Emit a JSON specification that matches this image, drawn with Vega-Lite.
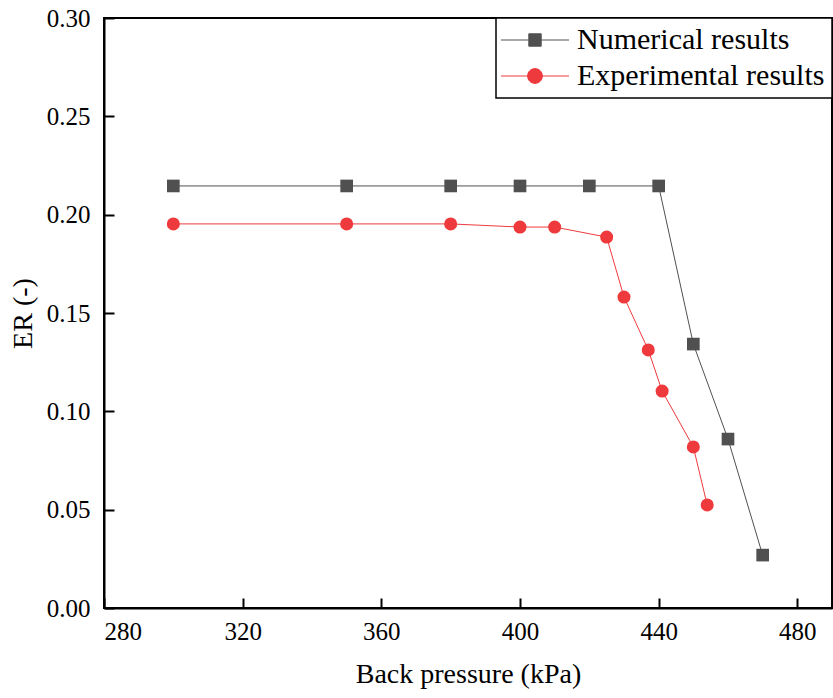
{
  "$schema": "https://vega.github.io/schema/vega-lite/v6.json",
  "width": 728,
  "height": 590,
  "autosize": {"type": "none"},
  "padding": {"left": 104, "top": 18, "right": 1, "bottom": 90},
  "background": "white",
  "config": {
    "font": "Liberation Serif",
    "view": {"stroke": "black", "strokeWidth": 2},
    "legend": {
      "orient": "top-right",
      "offset": 0,
      "padding": 7,
      "strokeColor": "black",
      "strokeWidth": 1.5,
      "fillColor": "white",
      "labelFont": "Liberation Serif",
      "labelFontSize": 30,
      "labelColor": "black",
      "labelLimit": 400,
      "rowPadding": 6,
      "symbolSize": 400,
      "symbolOffset": 17,
      "labelOffset": 27
    }
  },
  "data": {
    "values": [
      {"pressure": 300, "er": 0.2146, "series": "Numerical results"},
      {"pressure": 350, "er": 0.2146, "series": "Numerical results"},
      {"pressure": 380, "er": 0.2146, "series": "Numerical results"},
      {"pressure": 400, "er": 0.2146, "series": "Numerical results"},
      {"pressure": 420, "er": 0.2146, "series": "Numerical results"},
      {"pressure": 440, "er": 0.2146, "series": "Numerical results"},
      {"pressure": 450, "er": 0.1342, "series": "Numerical results"},
      {"pressure": 460, "er": 0.0859, "series": "Numerical results"},
      {"pressure": 470, "er": 0.0269, "series": "Numerical results"},
      {"pressure": 300, "er": 0.1953, "series": "Experimental results"},
      {"pressure": 350, "er": 0.1953, "series": "Experimental results"},
      {"pressure": 380, "er": 0.1953, "series": "Experimental results"},
      {"pressure": 400, "er": 0.1937, "series": "Experimental results"},
      {"pressure": 410, "er": 0.1937, "series": "Experimental results"},
      {"pressure": 425, "er": 0.1886, "series": "Experimental results"},
      {"pressure": 430, "er": 0.1581, "series": "Experimental results"},
      {"pressure": 437, "er": 0.1312, "series": "Experimental results"},
      {"pressure": 441, "er": 0.1103, "series": "Experimental results"},
      {"pressure": 450, "er": 0.0819, "series": "Experimental results"},
      {"pressure": 454, "er": 0.0524, "series": "Experimental results"}
    ]
  },
  "encoding": {
    "x": {
      "field": "pressure", "type": "quantitative",
      "scale": {"domain": [280, 490], "nice": false, "zero": false},
      "axis": {
        "values": [280, 320, 360, 400, 440, 480], "title": "Back pressure (kPa)",
        "zindex": 1,
        "grid": false, "domainColor": "black", "domainWidth": 2,
        "ticks": true, "tickColor": "black", "tickWidth": 2, "tickSize": 10,
        "labelFont": "Liberation Serif", "labelFontSize": 25, "labelColor": "black", "labelPadding": 1,
        "titleFont": "Liberation Serif", "titleFontSize": 28, "titleFontWeight": "normal", "titleColor": "black", "titlePadding": 16,
        "encoding": {"ticks": {"y2": {"value": -10}}}
      }
    },
    "y": {
      "field": "er", "type": "quantitative",
      "scale": {"domain": [0, 0.3], "nice": false},
      "axis": {
        "values": [0, 0.05, 0.1, 0.15, 0.2, 0.25, 0.3], "format": ".2f", "title": "ER (-)",
        "zindex": 1,
        "grid": false, "domainColor": "black", "domainWidth": 2,
        "ticks": true, "tickColor": "black", "tickWidth": 2, "tickSize": 10,
        "labelFont": "Liberation Serif", "labelFontSize": 25, "labelColor": "black", "labelPadding": 4,
        "titleFont": "Liberation Serif", "titleFontSize": 28, "titleFontWeight": "normal", "titleColor": "black", "titlePadding": 9,
        "encoding": {"ticks": {"x2": {"value": 10}}}
      }
    },
    "color": {
      "field": "series", "type": "nominal",
      "scale": {"domain": ["Numerical results", "Experimental results"], "range": ["#505050", "#ef3a3d"]},
      "legend": {
        "title": null,
        "symbolOpacity": 1,
        "encoding": {
          "symbols": {
            "shape": {"condition": {"test": "datum.value === 'Numerical results'", "value": "M-3.4,0H-0.62M0.62,0H3.4M-0.62,-0.62H0.62V0.62H-0.62Z"}, "value": "M-3.4,0H-0.74M0.74,0H3.4M-0.74,0A0.74,0.74 0 1,1 0.74,0A0.74,0.74 0 1,1 -0.74,0Z"},
            "fill": {"condition": {"test": "datum.value === 'Numerical results'", "value": "#505050"}, "value": "#ef3a3d"},
            "stroke": {"condition": {"test": "datum.value === 'Numerical results'", "value": "#505050"}, "value": "#ef3a3d"},
            "strokeWidth": {"value": 1}
          }
        }
      }
    }
  },
  "layer": [
    {
      "mark": {"type": "line", "strokeWidth": 1}
    },
    {
      "transform": [{"filter": "datum.series === 'Numerical results'"}],
      "mark": {"type": "point", "shape": "square", "filled": true, "opacity": 1, "size": 160}
    },
    {
      "transform": [{"filter": "datum.series === 'Experimental results'"}],
      "mark": {"type": "point", "shape": "circle", "filled": true, "opacity": 1, "size": 170}
    }
  ]
}
